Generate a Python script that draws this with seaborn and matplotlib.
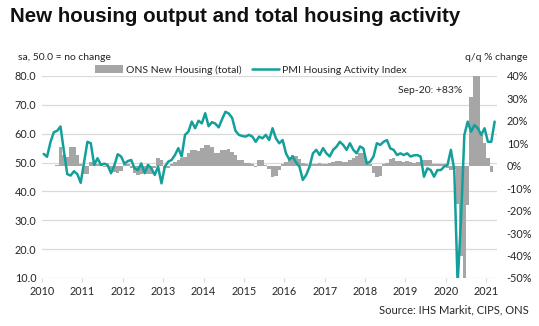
import numpy as np
import pandas as pd
import matplotlib
matplotlib.use("Agg")
import matplotlib.pyplot as plt
import seaborn as sns
from matplotlib.patches import Patch
from matplotlib.lines import Line2D

sns.set_theme(style="white")
plt.rcParams['font.family'] = ['Lato', 'DejaVu Sans']

# ---------------- data ----------------
year_labels = [str(y) for y in range(2010, 2022)]

# PMI Housing Activity Index (monthly, Jan 2010 - Mar 2021)
pmi = [
    53.0, 52.0, 57.0, 60.5, 61.0, 62.5, 54.0, 46.0, 45.5, 47.0, 46.0, 43.0,   # 2010
    50.0, 57.2, 56.7, 49.2, 51.5, 49.2, 49.6, 49.2, 46.3, 49.0, 52.9, 52.1,   # 2011
    49.6, 50.5, 50.9, 48.0, 47.4, 49.7, 46.3, 49.2, 48.0, 45.7, 48.6, 42.8,   # 2012
    48.6, 50.3, 50.9, 52.6, 55.0, 52.1, 59.6, 60.7, 64.2, 61.9, 64.5, 63.6,   # 2013
    67.1, 62.6, 64.0, 63.5, 62.2, 65.0, 67.6, 67.0, 65.5, 61.0, 59.6, 59.2,   # 2014
    59.0, 59.6, 59.0, 57.2, 59.0, 58.4, 59.6, 57.8, 61.9, 58.4, 56.7, 57.8,   # 2015
    53.2, 51.0, 52.1, 50.0, 48.6, 44.0, 45.7, 48.6, 53.2, 54.4, 52.6, 55.0,   # 2016
    53.2, 52.1, 54.4, 55.5, 57.2, 56.1, 54.4, 56.7, 54.4, 53.2, 55.6, 54.9,   # 2017
    49.7, 50.3, 52.1, 56.7, 56.1, 57.2, 57.8, 54.9, 54.4, 52.6, 53.2, 52.6,   # 2018
    53.2, 52.1, 52.5, 52.6, 52.1, 45.1, 48.0, 47.4, 45.1, 47.4, 47.4, 48.6,   # 2019
    49.2, 54.4, 47.5, 8.2, 30.0, 59.6, 64.2, 60.7, 63.0, 61.9, 59.6, 61.9,    # 2020
    57.2, 57.2, 64.2,                                                         # 2021
]

# ONS New Housing (total), q/q % change
ons = [
    np.nan, np.nan, np.nan, np.nan, 0.5, 8.5, 5.0, 4.0, 8.2, 8.2, 4.8, 1.0,
    -3.5, -3.8, 1.8, 1.5, 0.8, 0.5, -0.5, -0.4, -1.5, -2.8, -3.4, -2.5,
    1.5, 1.0, -1.1, -3.0, -4.0, -3.5, -2.0, -3.8, -3.5, -1.0, 3.5, 2.5,
    -1.0, -0.8, 1.0, 1.5, 2.5, 3.4, 4.1, 5.5, 7.0, 7.0, 6.5, 8.0,
    9.3, 9.3, 8.5, 5.6, 5.6, 7.0, 7.0, 7.5, 6.3, 5.0, 2.6, 2.6,
    1.2, 1.2, 1.0, -0.4, 2.6, 2.6, 0.5, -1.5, -4.9, -4.5, -2.0, 1.0,
    1.5, 4.0, 4.8, 4.5, 3.0, 1.2, 1.0, 0.5, 0.8, 1.0, 1.1, 1.0,
    1.0, 1.2, 1.5, 2.0, 2.0, 1.5, 1.8, 2.5, 3.4, 4.5, 5.6, 5.6,
    2.0, 0.8, -3.4, -4.9, -4.5, 1.0, 1.2, 3.0, 3.4, 2.0, 2.0, 1.5,
    2.0, 1.5, 1.2, 1.8, 1.5, 2.6, 2.6, 2.6, 1.0, 1.0, 0.8, 1.0,
    -1.0, -1.9, -1.5, -17.0, -40.0, -58.0, -17.5, 30.8, 83.0, 45.0, 13.7, 10.0,
    3.3, -2.6, np.nan,
]

left_ticks = [10, 20, 30, 40, 50, 60, 70, 80]
right_ticks = [-50, -40, -30, -20, -10, 0, 10, 20, 30, 40]

n = len(pmi)
df = pd.DataFrame({"pos": np.arange(n) + 0.5, "pmi": pmi, "ons": ons})

TEAL = "#13a09b"
GREY = "#a6a6a6"
TXT = "#262626"

W, H = 539, 326
fig = plt.figure(figsize=(W / 100, H / 100), dpi=100)
rect = [42 / W, 1 - 278 / H, (497 - 42) / W, (278 - 76) / H]

# base axes: grid + left labels
ax = fig.add_axes(rect)
ax.set_ylim(10, 80)
ax.set_yticks(left_ticks)
ax.set_yticklabels([f"{v:.1f}" for v in left_ticks])
ax.grid(axis="y", color="#d9d9d9", lw=0.9)
ax.grid(axis="x", visible=False)

# bars (right axis)
ax2 = ax.twinx()
sns.barplot(data=df, x="pos", y="ons", native_scale=True, ax=ax2, color=GREY,
            saturation=1, width=1.0, errorbar=None, linewidth=0)
ax2.set_ylim(-50, 40)
ax2.set_yticks(right_ticks)
ax2.set_yticklabels([f"{v}%" for v in right_ticks])
ax2.set_ylabel("")
ax2.grid(False)

# line (left scale)
ax3 = ax.twinx()
sns.lineplot(data=df, x="pos", y="pmi", ax=ax3, color=TEAL, lw=1.8)
ax3.set_ylim(10, 80)
ax3.set_yticks([])
ax3.set_ylabel("")
ax3.grid(False)

ax.set_xlim(0, 135.2)
ax.set_xticks([i * 12 for i in range(len(year_labels))])
ax.set_xticklabels(year_labels)
ax.set_xlabel("")
ax.set_ylabel("")

for a in (ax, ax2, ax3):
    for s in a.spines.values():
        s.set_visible(False)

ax.tick_params(axis="y", length=0, pad=4, labelsize=7.8, labelcolor=TXT)
ax2.tick_params(axis="y", length=0, pad=7, labelsize=7.8, labelcolor=TXT)
ax.tick_params(axis="x", length=3, width=0.8, color="#d9d9d9", pad=3,
               labelsize=7.8, labelcolor=TXT, bottom=True)

# texts
fig.text(10 / W, 1 - 17 / H, "New housing output and total housing activity",
         fontsize=14.8, fontweight="bold", family=["Liberation Sans", "DejaVu Sans"],
         color="#111111", va="center", ha="left")
fig.text(18 / W, 1 - 57 / H, "sa, 50.0 = no change", fontsize=7.5, color=TXT,
         va="center", ha="left")
fig.text(528 / W, 1 - 57 / H, "q/q % change", fontsize=7.5, color=TXT,
         va="center", ha="right")
fig.text(430 / W, 1 - 91 / H, "Sep-20: +83%", fontsize=7.5, color=TXT,
         va="center", ha="center")
fig.text(529 / W, 1 - 310 / H, "Source: IHS Markit, CIPS, ONS", fontsize=8,
         color=TXT, va="center", ha="right")

handles = [Patch(facecolor=GREY, edgecolor="none"),
           Line2D([0], [0], color=TEAL, lw=1.8)]
labels = ["ONS New Housing (total)", "PMI Housing Activity Index"]
fig.legend(handles, labels, loc="center", bbox_to_anchor=(251 / W, 1 - 70 / H),
           ncol=2, frameon=False, fontsize=7.5, handlelength=2.6,
           handletextpad=0.3, columnspacing=1.0, labelcolor=TXT)

fig.savefig("out.png", dpi=100)
